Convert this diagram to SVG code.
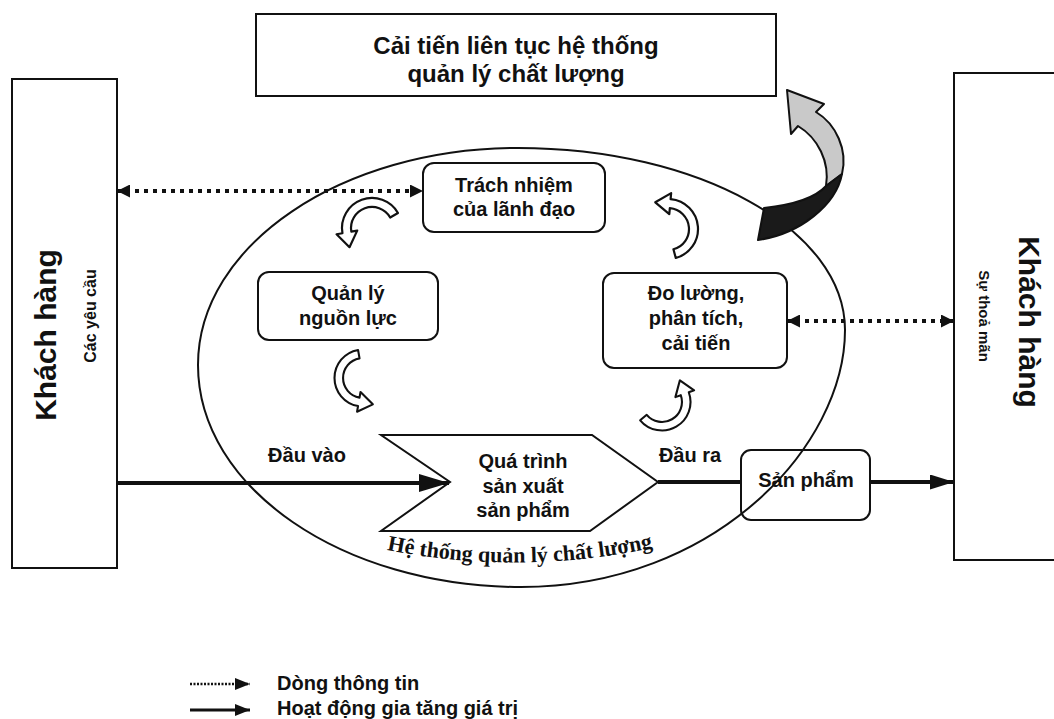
<svg xmlns="http://www.w3.org/2000/svg" width="1054" height="719" viewBox="0 0 1054 719">
<style>
.box{fill:#fff;stroke:#111;stroke-width:2}
.t{font-family:"Liberation Sans",Arial,sans-serif;font-weight:bold;fill:#111;text-anchor:middle}
.n{font-size:20px}
.dot{stroke:#111;stroke-width:4;stroke-dasharray:4 5;fill:none}
.solid{stroke:#111;stroke-width:4;fill:none}
.carrow{fill:#fff;stroke:#111;stroke-width:2.2;stroke-linejoin:round}
</style>
<defs>
<marker id="hd" markerUnits="userSpaceOnUse" viewBox="0 0 13 13" refX="13" refY="6.5" markerWidth="13" markerHeight="13" orient="auto-start-reverse">
<path d="M0,0 L13,6.5 L0,13 Z" fill="#111"/>
</marker>
<marker id="hb" markerUnits="userSpaceOnUse" viewBox="0 0 30 18" refX="30" refY="9" markerWidth="30" markerHeight="18" orient="auto">
<path d="M0,0 L30,9 L0,18 Z" fill="#111"/>
</marker>
<marker id="hm" markerUnits="userSpaceOnUse" viewBox="0 0 24 15" refX="24" refY="7.5" markerWidth="24" markerHeight="15" orient="auto">
<path d="M0,0 L24,7.5 L0,15 Z" fill="#111"/>
</marker>
<marker id="hs" markerUnits="userSpaceOnUse" viewBox="0 0 15 12" refX="15" refY="6" markerWidth="15" markerHeight="12" orient="auto">
<path d="M0,0 L15,6 L0,12 Z" fill="#111"/>
</marker>
<path id="ca" d="M0,30 A30,30 0 0 0 10.26,-28.19 L12.31,-33.83 L-5.38,-29.09 L5.13,-14.10 L7.18,-19.73 A21,21 0 0 1 0,21 Z"/>
<path id="arc" d="M 378,548 Q 518,578 662,546"/>
</defs>

<g id="improve">
<rect class="box" x="256" y="14" width="520" height="82"/>
<text class="t" x="516" y="54" style="font-size:24px">Cải tiến liên tục hệ thống</text>
<text class="t" x="516" y="82" style="font-size:24px">quản lý chất lượng</text>
</g>

<g id="customer-left">
<rect class="box" x="12" y="79" width="105" height="489"/>
<text class="t" transform="translate(56,335) rotate(-90)" style="font-size:30px">Khách hàng</text>
<text class="t" transform="translate(96,316) rotate(-90)" style="font-size:16px">Các yêu cầu</text>
</g>

<g id="customer-right">
<rect class="box" x="954" y="73" width="110" height="487"/>
<text class="t" transform="translate(1019,322) rotate(90)" style="font-size:30px">Khách hàng</text>
<text class="t" transform="translate(979,316) rotate(90)" style="font-size:15px">Sự thoả mãn</text>
</g>

<g id="leadership">
<rect class="box" x="423" y="163" width="182" height="69" rx="11"/>
<text class="t n" x="514" y="192">Trách nhiệm</text>
<text class="t n" x="514" y="216">của lãnh đạo</text>
</g>

<g id="resources">
<rect class="box" x="258" y="272" width="180" height="68" rx="11"/>
<text class="t n" x="348" y="300">Quản lý</text>
<text class="t n" x="348" y="325">nguồn lực</text>
</g>

<g id="measure">
<rect class="box" x="603" y="273" width="184" height="95" rx="11"/>
<text class="t n" x="696" y="300">Đo lường,</text>
<text class="t n" x="696" y="325">phân tích,</text>
<text class="t n" x="696" y="350">cải tiến</text>
</g>

<g id="process">
<path class="box" d="M381,435 L592,435 L658,482 L590,531 L381,531 L450,482 Z"/>
<text class="t n" x="523" y="468">Quá trình</text>
<text class="t n" x="523" y="493">sản xuất</text>
<text class="t n" x="523" y="517">sản phẩm</text>
</g>

<g id="product">
<rect x="741" y="450" width="129" height="70" rx="10" fill="none" stroke="#111" stroke-width="2"/>
<text class="t n" x="806" y="487">Sản phẩm</text>
</g>

<g id="system">
<path d="M518,148 C698.6,148 845,229.5 845,330 C845,446 715,587 521,587 C342.6,587 198,487.6 198,365 C198,245.2 341.3,148 518,148 Z" fill="none" stroke="#111" stroke-width="2"/>
<text class="t" style="font-family:'Liberation Serif','Times New Roman',serif;font-size:22px"><textPath href="#arc" startOffset="50%">Hệ thống quản lý chất lượng</textPath></text>
</g>

<g id="labels">
<text class="t n" x="307" y="462">Đầu vào</text>
<text class="t n" x="690" y="462">Đầu ra</text>
</g>

<g id="connectors">
<line class="dot" x1="117" y1="191" x2="423" y2="191" marker-start="url(#hd)" marker-end="url(#hd)"/>
<line class="dot" x1="787" y1="321" x2="954" y2="321" marker-start="url(#hd)" marker-end="url(#hd)"/>
<line class="solid" x1="117" y1="483" x2="449" y2="483" marker-end="url(#hb)"/>
<line class="solid" x1="658" y1="482" x2="741" y2="482"/>
<line class="solid" x1="870" y1="482" x2="954" y2="482" marker-end="url(#hm)"/>
<use href="#ca" class="carrow" transform="translate(372,228) rotate(-120)"/>
<use href="#ca" class="carrow" transform="translate(668,229) rotate(-15)"/>
<use href="#ca" class="carrow" transform="translate(363,378) rotate(170) scale(0.95)"/>
<use href="#ca" class="carrow" transform="translate(662,402) rotate(50) scale(0.95)"/>
<path d="M 787,90 L 824,104 L 816,112 C 836,124 848,150 842,174 L 826,186 C 830,162 818,138 798,126 L 791,134 Z" fill="#c9c9c9" stroke="#111" stroke-width="2" stroke-linejoin="round"/>
<path d="M 842,174 C 836,205 800,234 758,240 L 764,208 C 792,205 815,198 826,186 Z" fill="#1a1a1a" stroke="#111" stroke-width="2" stroke-linejoin="round"/>
</g>

<g id="legend">
<line x1="190" y1="684" x2="250" y2="684" stroke="#111" stroke-width="2.5" stroke-dasharray="2 1.5" marker-end="url(#hs)"/>
<line x1="190" y1="710" x2="250" y2="710" stroke="#111" stroke-width="3" marker-end="url(#hs)"/>
<text class="t" x="277" y="690" style="font-size:20px;text-anchor:start">Dòng thông tin</text>
<text class="t" x="277" y="715" style="font-size:20px;text-anchor:start">Hoạt động gia tăng giá trị</text>
</g>
</svg>
